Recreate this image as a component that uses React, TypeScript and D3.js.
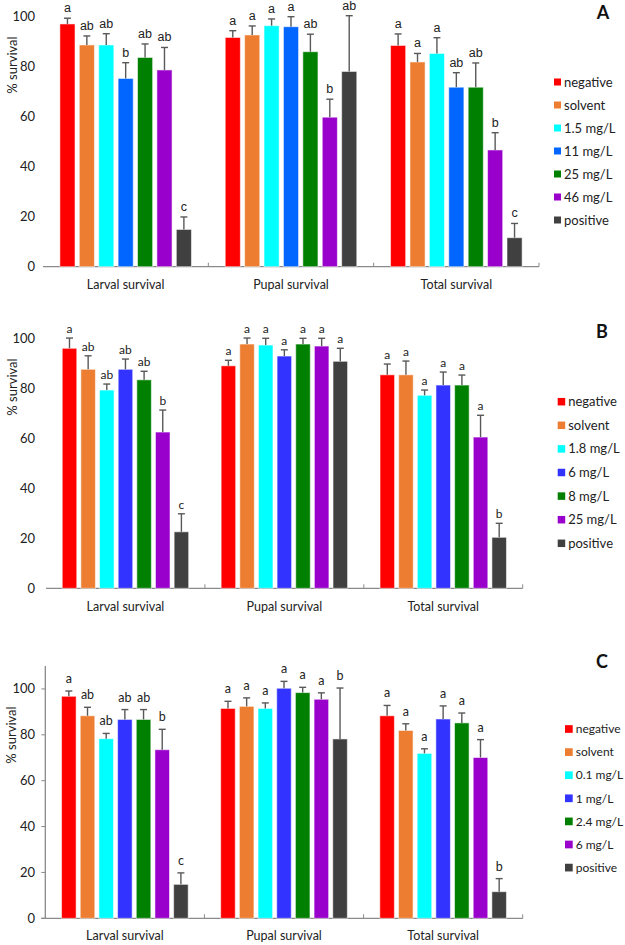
import React from "react";
import * as d3 from "d3";

const categories = ["Larval survival", "Pupal survival", "Total survival"];

const seriesA = ["negative", "solvent", "1.5 mg/L", "11 mg/L", "25 mg/L", "46 mg/L", "positive"];
const seriesB = ["negative", "solvent", "1.8 mg/L", "6 mg/L", "8 mg/L", "25 mg/L", "positive"];
const seriesC = ["negative", "solvent", "0.1 mg/L", "1 mg/L", "2.4 mg/L", "6 mg/L", "positive"];

// mean % survival, one row per category
const meansA = [
  [97.1, 88.7, 88.7, 75.3, 83.7, 78.7, 14.9],
  [91.7, 92.7, 96.4, 96.0, 86.0, 59.8, 78.1],
  [88.5, 81.9, 85.3, 71.8, 71.8, 46.7, 11.6],
];
const errA = [
  [2.3, 3.6, 4.5, 6.3, 5.4, 9.0, 5.0],
  [2.7, 3.6, 2.7, 4.0, 7.0, 7.2, 22.3],
  [4.6, 3.4, 6.3, 5.8, 9.7, 6.9, 5.7],
];
const lettersA = [
  ["a", "ab", "ab", "b", "ab", "ab", "c"],
  ["a", "a", "a", "a", "ab", "b", "ab"],
  ["a", "a", "a", "ab", "ab", "b", "c"],
];

const meansB = [
  [96.0, 87.6, 79.3, 87.6, 83.4, 62.5, 22.6],
  [89.0, 97.7, 97.3, 92.9, 97.7, 96.9, 90.8],
  [85.4, 85.4, 77.2, 81.3, 81.3, 60.5, 20.4],
];
const errB = [
  [4.1, 5.4, 2.4, 4.1, 3.4, 8.8, 7.2],
  [2.2, 2.4, 2.7, 2.5, 2.3, 3.1, 5.2],
  [4.3, 5.5, 2.1, 5.2, 4.0, 8.7, 5.6],
];
const lettersB = [
  ["a", "ab", "ab", "ab", "ab", "b", "c"],
  ["a", "a", "a", "a", "a", "a", "a"],
  ["a", "a", "a", "a", "a", "a", "b"],
];

const meansC = [
  [96.8, 88.3, 78.3, 86.7, 86.7, 73.5, 14.8],
  [91.5, 92.4, 91.5, 100.3, 98.4, 95.5, 78.2],
  [88.3, 81.9, 71.9, 86.9, 85.2, 70.1, 11.6],
];
const errC = [
  [2.3, 3.7, 2.3, 4.3, 4.3, 8.9, 5.0],
  [3.1, 3.7, 2.4, 3.0, 2.3, 2.8, 22.2],
  [4.5, 2.9, 2.0, 5.7, 4.3, 7.8, 5.7],
];
const lettersC = [
  ["a", "ab", "ab", "ab", "ab", "b", "c"],
  ["a", "a", "a", "a", "a", "a", "b"],
  ["a", "a", "a", "a", "a", "a", "b"],
];

const yTicks = [0, 20, 40, 60, 80, 100];

const colorsA = ["#ff0000", "#ed7d31", "#00ffff", "#0066ff", "#008000", "#9900cc", "#404040"];
const colorsBC = ["#ff0000", "#ed7d31", "#00ffff", "#3333ff", "#008000", "#9900cc", "#404040"];

const FONT = "Lato, 'Open Sans', sans-serif";

const panels = [
  {
    id: "A", series: seriesA, means: meansA, errs: errA, letters: lettersA, colors: colorsA,
    yMax: 100, yBottom: 266.7, yTop: 16.7, x0: 43, x1: 539, yAxisLine: false,
    letterGap: 6, letterSize: 12.5, letterFont: "'Liberation Sans', Arial, sans-serif",
    legX: 554, legSize: 7, legY: 82, legStep: 23, legFont: 13, tag: { x: 603, y: 19 },
    yLabel: { x: 12, y: 65 }, catY: 289,
  },
  {
    id: "B", series: seriesB, means: meansB, errs: errB, letters: lettersB, colors: colorsBC,
    yMax: 100, yBottom: 588.3, yTop: 338.3, x0: 46, x1: 522.7, yAxisLine: false,
    letterGap: 5, letterSize: 12, letterFont: FONT,
    legX: 557.7, legSize: 7.5, legY: 401.7, legStep: 23.6, legFont: 13, tag: { x: 602, y: 338 },
    yLabel: { x: 12, y: 387 }, catY: 611,
  },
  {
    id: "C", series: seriesC, means: meansC, errs: errC, letters: lettersC, colors: colorsBC,
    yMax: 110, yBottom: 918.3, yTop: 666, x0: 45.3, x1: 522.7, yAxisLine: true,
    letterGap: 8, letterSize: 12.5, letterFont: FONT,
    legX: 565, legSize: 7.7, legY: 729, legStep: 23.1, legFont: 12, tag: { x: 602, y: 668 },
    yLabel: { x: 11, y: 735 }, catY: 940,
  },
];

function Panel({ p }) {
  const y = d3.scaleLinear().domain([0, p.yMax]).range([p.yBottom, p.yTop]);
  const x = d3.scaleBand().domain(categories).range([p.x0, p.x1]).padding(0);
  const xs = d3
    .scaleBand()
    .domain(p.series)
    .range([0, x.bandwidth()])
    .paddingInner(0.22)
    .paddingOuter(0.87);
  const bounds = categories.map((c) => x(c)).concat([p.x1]);
  const axisColor = "#8a8a8a";

  return (
    <g>
      {/* x axis */}
      <line x1={p.yAxisLine ? p.x0 - 4 : p.x0} x2={p.x1} y1={p.yBottom} y2={p.yBottom} stroke={axisColor} strokeWidth={1.3} />
      {bounds.slice(1).map((b, i) => (
        <line key={i} x1={b} x2={b} y1={p.yBottom} y2={p.yBottom - 4} stroke={axisColor} strokeWidth={1} />
      ))}
      {p.yAxisLine && (
        <g>
          <line x1={p.x0} x2={p.x0} y1={p.yTop} y2={p.yBottom} stroke={axisColor} strokeWidth={1.3} />
          {yTicks.map((t) => (
            <line key={t} x1={p.x0 - 4} x2={p.x0} y1={y(t)} y2={y(t)} stroke={axisColor} strokeWidth={1} />
          ))}
        </g>
      )}
      {yTicks.map((t) => (
        <text key={t} x={35} y={y(t)} dy="0.35em" textAnchor="end" fontFamily={FONT} fontSize={13} fill="#222">
          {t}
        </text>
      ))}
      <text
        transform={`translate(${p.yLabel.x},${p.yLabel.y}) rotate(-90)`}
        textAnchor="middle"
        dy="0.35em"
        fontFamily={FONT}
        fontSize={13}
        fill="#222"
      >
        % survival
      </text>
      {categories.map((c, ci) => (
        <g key={c}>
          <text x={x(c) + x.bandwidth() / 2} y={p.catY} textAnchor="middle" fontFamily={FONT} fontSize={12.5} fill="#222">
            {c}
          </text>
          {p.series.map((s, si) => {
            const v = p.means[ci][si];
            const e = p.errs[ci][si];
            const bx = x(c) + xs(s);
            const cx = bx + xs.bandwidth() / 2;
            return (
              <g key={s}>
                <rect
                  x={bx}
                  y={y(v)}
                  width={xs.bandwidth()}
                  height={p.yBottom - y(v)}
                  fill={p.colors[si]}
                  stroke="rgba(255,255,255,0.55)"
                  strokeWidth={1}
                />
                <line x1={cx} x2={cx} y1={y(v)} y2={y(v + e)} stroke="#595959" strokeWidth={1.4} />
                <line x1={cx - 3.5} x2={cx + 3.5} y1={y(v + e)} y2={y(v + e)} stroke="#595959" strokeWidth={1.4} />
                <text
                  x={cx}
                  y={y(v + e) - p.letterGap}
                  textAnchor="middle"
                  fontFamily={p.letterFont}
                  fontSize={p.letterSize}
                  fill="#222"
                >
                  {p.letters[ci][si]}
                </text>
              </g>
            );
          })}
        </g>
      ))}
      {/* legend */}
      {p.series.map((s, si) => (
        <g key={s} transform={`translate(${p.legX},${p.legY + si * p.legStep})`}>
          <rect x={0} y={-p.legSize / 2} width={p.legSize} height={p.legSize} fill={p.colors[si]} />
          <text x={p.legSize + 3} y={0} dy="0.35em" fontFamily={FONT} fontSize={p.legFont} fill="#222">
            {s}
          </text>
        </g>
      ))}
      <text x={p.tag.x} y={p.tag.y} textAnchor="middle" fontFamily={FONT} fontWeight="bold" fontSize={18} fill="#111">
        {p.id}
      </text>
    </g>
  );
}

export default function App() {
  return (
    <svg
      width={625}
      height={945}
      style={{ position: "absolute", left: 0, top: 0, background: "#fff", display: "block" }}
    >
      <rect width={625} height={945} fill="#fff" />
      {panels.map((p) => (
        <Panel key={p.id} p={p} />
      ))}
    </svg>
  );
}
